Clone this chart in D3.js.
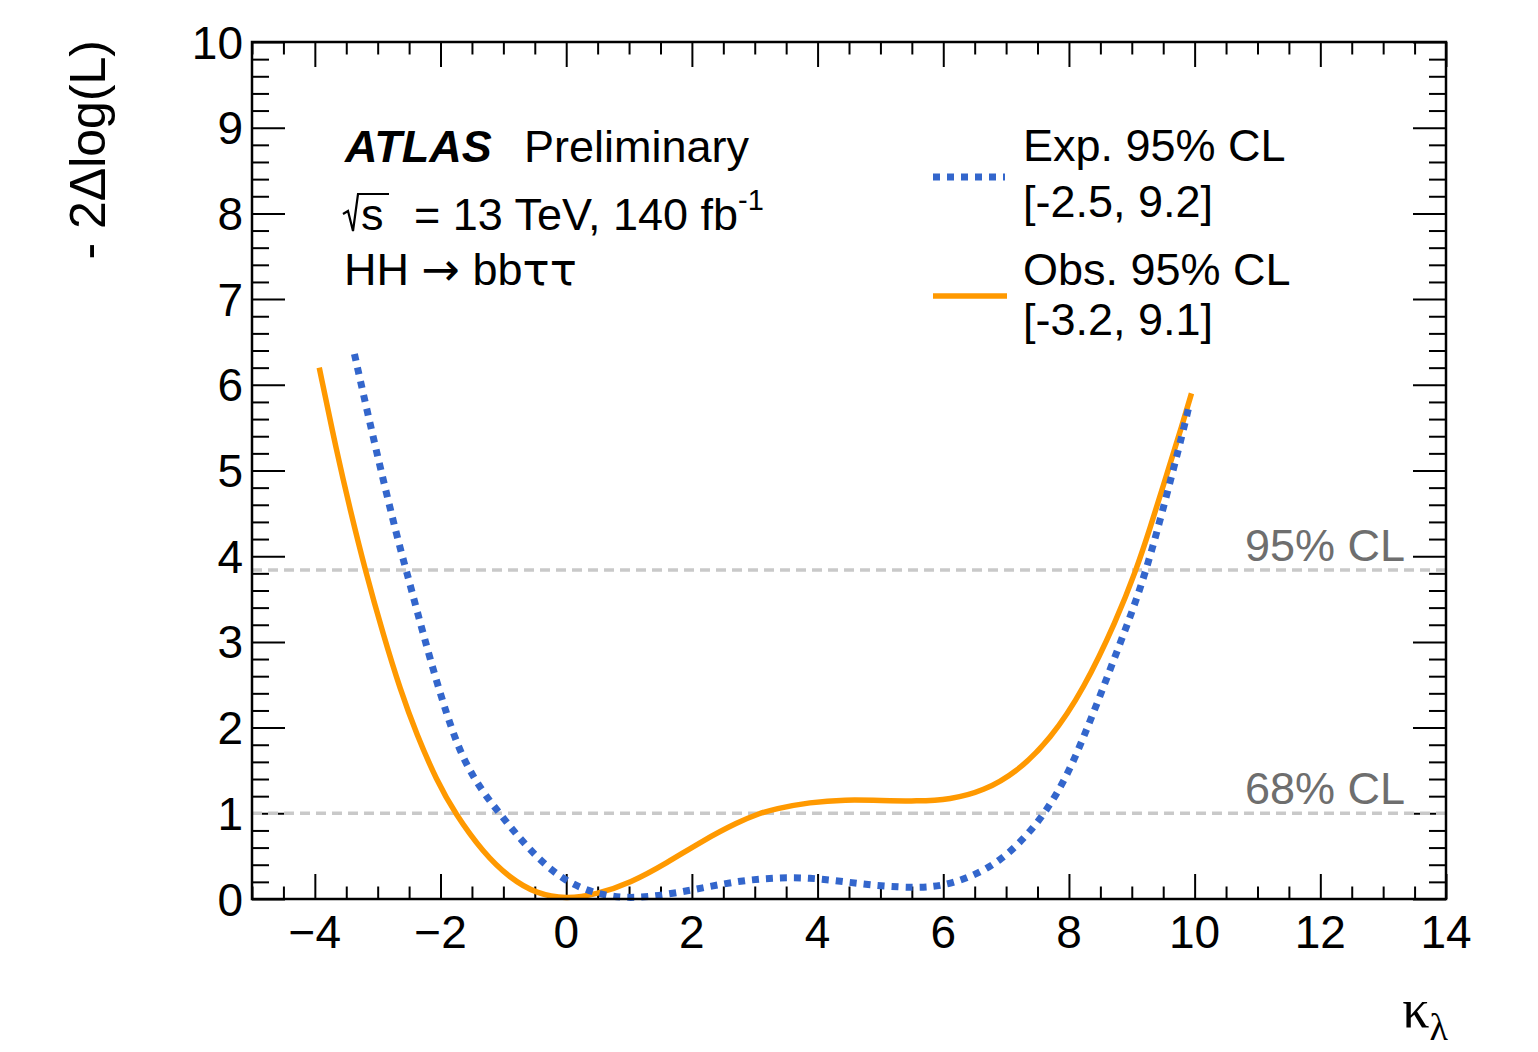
<!DOCTYPE html>
<html>
<head>
<meta charset="utf-8">
<script src="https://cdn.jsdelivr.net/npm/d3@7"></script>
<style>
  html, body { margin: 0; padding: 0; background: #fff; }
  svg { display: block; }
  text { font-family: "Liberation Sans", Arial, Helvetica, sans-serif; fill: #000; }
</style>
</head>
<body>
<svg id="chart" width="1538" height="1052"></svg>
<script>
// ---------------- data ----------------
const obsKappa = [-3.93, -3.65, -3.44, -3.2, -2.91, -2.64, -2.38, -2.06, -1.77, -1.32, -0.89, -0.47, 0,
  0.47, 1.03, 1.6, 2.17, 2.74, 3.08, 3.31, 3.88, 4.44, 5.01, 5.58, 6.11, 6.64, 7.17, 7.70, 8.23, 8.76,
  9.07, 9.28, 9.55, 9.81, 9.95];
const obsNLL = [6.20, 5.21, 4.55, 3.84, 3.08, 2.44, 1.92, 1.38, 1.0, 0.54, 0.24, 0.06, 0,
  0.05, 0.19, 0.42, 0.68, 0.90, 1.0, 1.05, 1.13, 1.16, 1.15, 1.14, 1.16, 1.26, 1.48, 1.86, 2.44, 3.26,
  3.84, 4.30, 4.94, 5.55, 5.90];
const expKappa = [-3.37, -3.2, -3.04, -2.85, -2.66, -2.54, -2.38, -2.17, -1.9, -1.64, -1.32, -1.06, -0.79,
  -0.42, -0.02, 0.44, 0.97, 1.6, 2.17, 2.74, 3.31, 3.88, 4.44, 5.01, 5.58, 5.97, 6.43, 6.9, 7.28, 7.62,
  7.96, 8.23, 8.49, 8.76, 9.02, 9.23, 9.44, 9.65, 9.81, 9.92];
const expNLL = [6.36, 5.80, 5.29, 4.70, 4.14, 3.82, 3.38, 2.81, 2.14, 1.62, 1.24, 1.0, 0.75,
  0.45, 0.21, 0.065, 0.0, 0.05, 0.13, 0.21, 0.25, 0.25, 0.20, 0.15, 0.13, 0.15, 0.25, 0.44, 0.70, 1.0,
  1.42, 1.88, 2.36, 2.88, 3.38, 3.84, 4.39, 4.98, 5.44, 5.78];

const xMajorTicks = [-4, -2, 0, 2, 4, 6, 8, 10, 12, 14];
const yMajorTicks = [0, 1, 2, 3, 4, 5, 6, 7, 8, 9, 10];
const clLevels = [1.0, 3.84];
const clLabels = ["68% CL", "95% CL"];
const legendTitles = ["Exp. 95% CL", "Obs. 95% CL"];
const legendRanges = ["[-2.5, 9.2]", "[-3.2, 9.1]"];

// ---------------- layout ----------------
const L = 252, R = 1446, T = 42, B = 899;
const svg = d3.select("#chart");
const x = d3.scaleLinear().domain([-5, 14]).range([L, R]);
const y = d3.scaleLinear().domain([0, 10]).range([B, T]);

const xMinor = d3.range(-5, 14.001, 0.5).filter(v => !xMajorTicks.some(m => Math.abs(m - v) < 1e-6));
const yMinor = d3.range(0, 10.001, 0.2).filter(v => !yMajorTicks.some(m => Math.abs(m - v) < 1e-6));

const XMAJ = 25, XMIN = 12.5, YMAJ = 33, YMIN = 17;

function axisGroup(axis, tx, ty) {
  const g = svg.append("g").attr("transform", `translate(${tx},${ty})`).call(axis);
  g.select(".domain").remove();
  g.selectAll("text").remove();
  g.selectAll("line").attr("stroke", "#000").attr("stroke-width", 2);
  return g;
}
// bottom & top
axisGroup(d3.axisBottom(x).tickValues(xMajorTicks).tickSize(-XMAJ), 0, B);
axisGroup(d3.axisBottom(x).tickValues(xMinor).tickSize(-XMIN), 0, B);
axisGroup(d3.axisTop(x).tickValues(xMajorTicks).tickSize(-XMAJ), 0, T);
axisGroup(d3.axisTop(x).tickValues(xMinor).tickSize(-XMIN), 0, T);
// left & right
axisGroup(d3.axisLeft(y).tickValues(yMajorTicks).tickSize(-YMAJ), L, 0);
axisGroup(d3.axisLeft(y).tickValues(yMinor).tickSize(-YMIN), L, 0);
axisGroup(d3.axisRight(y).tickValues(yMajorTicks).tickSize(-YMAJ), R, 0);
axisGroup(d3.axisRight(y).tickValues(yMinor).tickSize(-YMIN), R, 0);

// tick labels
svg.append("g").selectAll("text").data(xMajorTicks).join("text")
  .attr("x", d => x(d)).attr("y", 948)
  .attr("text-anchor", "middle").attr("font-size", 46)
  .text(d => d < 0 ? "\u2212" + Math.abs(d) : String(d));
svg.append("g").selectAll("text").data(yMajorTicks).join("text")
  .attr("x", 243).attr("y", d => y(d) + 16.5)
  .attr("text-anchor", "end").attr("font-size", 46)
  .text(d => String(d));

// CL reference lines
svg.append("g").selectAll("line").data(clLevels).join("line")
  .attr("x1", L).attr("x2", R).attr("y1", d => y(d)).attr("y2", d => y(d))
  .attr("stroke", "#c9c9c9").attr("stroke-width", 3.5).attr("stroke-dasharray", "10,6");
svg.append("g").selectAll("text").data(clLevels).join("text")
  .attr("x", 1405).attr("y", d => y(d) - 9)
  .attr("text-anchor", "end").attr("font-size", 45).style("fill", "#6e6e6e")
  .text((d, i) => clLabels[i]);

// curves
const line = d3.line().x(d => x(d[0])).y(d => y(d[1])).curve(d3.curveBasis);
const obsPts = obsKappa.map((k, i) => [k, obsNLL[i]]);
const expPts = expKappa.map((k, i) => [k, expNLL[i]]);
svg.append("clipPath").attr("id", "clip").append("rect")
  .attr("x", L).attr("y", T).attr("width", R - L).attr("height", B - T + 3);
svg.append("path").datum(obsPts).attr("d", line).attr("clip-path", "url(#clip)")
  .attr("fill", "none").attr("stroke", "#ff9900").attr("stroke-width", 5.5);
svg.append("path").datum(expPts).attr("d", line).attr("clip-path", "url(#clip)")
  .attr("fill", "none").attr("stroke", "#3366cc").attr("stroke-width", 7)
  .attr("stroke-dasharray", "7,7");

// frame
svg.append("rect").attr("x", L).attr("y", T).attr("width", R - L).attr("height", B - T)
  .attr("fill", "none").attr("stroke", "#000").attr("stroke-width", 2.5);

// axis titles
svg.append("text").attr("transform", "translate(105,40) rotate(-90)")
  .attr("text-anchor", "end").attr("font-size", 50).text("- 2\u0394log(L)");
const kt = svg.append("text").attr("x", 1448).attr("y", 1027).attr("text-anchor", "end")
  .style("font-family", "'Liberation Serif', 'Times New Roman', serif").attr("font-size", 54);
kt.append("tspan").text("\u03BA");
kt.append("tspan").attr("font-size", 38).attr("dy", 13).text("\u03BB");

// ATLAS label
const atl = svg.append("text").attr("x", 345).attr("y", 162).attr("font-size", 45);
atl.append("tspan").attr("font-weight", "bold").attr("font-style", "italic").text("ATLAS");
atl.append("tspan").attr("x", 524).text("Preliminary");

// sqrt(s) drawn as a radical sign
svg.append("path").attr("d", "M343,214 L348,211 L353,231 L358,194 L389,194")
  .attr("fill", "none").attr("stroke", "#000").attr("stroke-width", 2.2)
  .attr("stroke-linejoin", "miter");
const en = svg.append("text").attr("x", 361).attr("y", 230).attr("font-size", 45);
en.append("tspan").text("s");
en.append("tspan").attr("x", 414).text("= 13 TeV, 140 fb");
en.append("tspan").attr("font-size", 29).attr("dy", -20).text("-1");

const hh = svg.append("text").attr("x", 344).attr("y", 285).attr("font-size", 45);
hh.append("tspan").text("HH ");
hh.append("tspan").style("font-family", "'DejaVu Sans', sans-serif").attr("font-size", 46).text("\u2192");
hh.append("tspan").text(" bb");
hh.append("tspan").style("font-family", "'DejaVu Sans', sans-serif").attr("font-size", 45).text("\u03C4\u03C4");

// legend
svg.append("line").attr("x1", 933).attr("x2", 1005).attr("y1", 177).attr("y2", 177)
  .attr("stroke", "#3366cc").attr("stroke-width", 7).attr("stroke-dasharray", "7,7");
svg.append("line").attr("x1", 933).attr("x2", 1007).attr("y1", 296).attr("y2", 296)
  .attr("stroke", "#ff9900").attr("stroke-width", 5.5);
const legY = [[161, 217], [285, 335]];
legendTitles.forEach((t, i) => {
  svg.append("text").attr("x", 1023).attr("y", legY[i][0]).attr("font-size", 45).text(t);
  svg.append("text").attr("x", 1023).attr("y", legY[i][1]).attr("font-size", 45).text(legendRanges[i]);
});
</script>
</body>
</html>
